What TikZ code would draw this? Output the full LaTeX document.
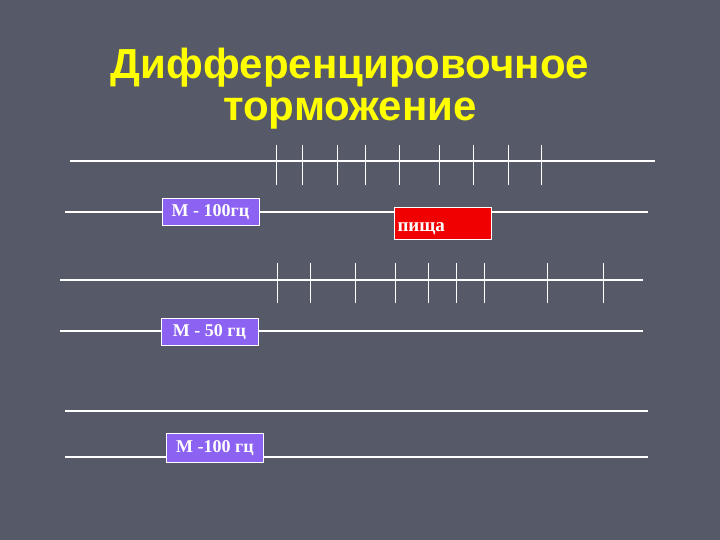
\documentclass[tikz,border=0pt]{standalone}
\usepackage{fontspec}
\setmainfont{Liberation Serif}
\newfontfamily\titlefont{Liberation Sans}
\usepackage{xcolor}
\usetikzlibrary{positioning}

\definecolor{slidebg}{RGB}{86,89,104}
\definecolor{tonebox}{RGB}{140,98,242}
\definecolor{foodbox}{RGB}{240,0,0}
\definecolor{titleyellow}{RGB}{255,255,0}

\begin{document}
\begin{tikzpicture}[
    x=1pt, y=-1pt,
    title/.style={font=\titlefont\bfseries\fontsize{42}{42}\selectfont, text=titleyellow, align=center},
    track/.style={draw=white, line width=2pt},
    spike/.style={draw=white, line width=1pt},
    stim/.style={rectangle, draw=white, line width=0.6pt, fill=tonebox, text=white, inner sep=0pt, minimum width=97pt, minimum height=27pt, font=\bfseries\fontsize{18}{18}\selectfont},
    food/.style={stim, fill=foodbox, minimum height=32pt, text width=90pt, text height=18pt, text depth=2pt, align=left, font=\bfseries\fontsize{19}{19}\selectfont}
]
    % Background
    \fill[slidebg] (0,0) rectangle (720,540);
    \useasboundingbox (0,0) rectangle (720,540);

    % Title
    \node[title] (head) at (350,89) {Дифференцировочное\\торможение};

    % Trial 1: tone 100 Hz with food
    \coordinate (r1a) at (70,161);  \coordinate (r1b) at (655,161);
    \coordinate (s1a) at (65,212);  \coordinate (s1b) at (648,212);
    \draw[track] (r1a) -- (r1b);
    \foreach \x in {276,302,337,365,399,439,473,508,541}
        \draw[spike] (\x,145) -- (\x,185);
    \draw[track] (s1a) -- (s1b);
    \node[stim] (tone1) at (210.5,212) {M - 100гц};
    \node[food] (meal) at (442.5,223) {пища};

    % Trial 2: tone 50 Hz
    \coordinate (r2a) at (60,280);  \coordinate (r2b) at (643,280);
    \coordinate (s2a) at (60,331);  \coordinate (s2b) at (643,331);
    \draw[track] (r2a) -- (r2b);
    \foreach \x in {277,310,355,395,428,456,484,547,603}
        \draw[spike] (\x,263) -- (\x,303);
    \draw[track] (s2a) -- (s2b);
    \node[stim] (tone2) at (209.5,332) {M - 50 гц};

    % Trial 3: tone 100 Hz, no response
    \coordinate (r3a) at (65,411);  \coordinate (r3b) at (648,411);
    \coordinate (s3a) at (65,457);  \coordinate (s3b) at (648,457);
    \draw[track] (r3a) -- (r3b);
    \draw[track] (s3a) -- (s3b);
    \node[stim, minimum height=29pt] (tone3) at (215,448) {M -100 гц};
\end{tikzpicture}
\end{document}
